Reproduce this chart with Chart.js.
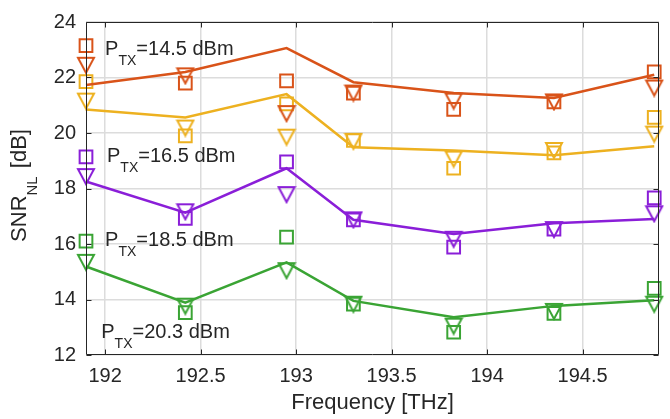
<!DOCTYPE html>
<html>
<head>
<meta charset="utf-8">
<script src="https://cdn.jsdelivr.net/npm/chart.js@4"></script>
<style>
  body { margin: 0; background: #fff; }
</style>
</head>
<body>
<canvas id="grafica" width="670" height="419"></canvas>
<script>
// Datos
const frecuencias = [191.9, 192.42, 192.95, 193.3, 193.825, 194.35, 194.875];

// P_TX = 14.5 dBm
const linea145 = [21.73, 22.2, 23.06, 21.83, 21.44, 21.26, 22.1];
const cuadros145 = [23.15, 21.8, 21.88, 21.44, 20.85, 21.12, 22.2];
const triangulos145 = [22.44, 22.06, 20.7, 21.44, 21.15, 21.12, 21.62];

// P_TX = 16.5 dBm
const linea165 = [20.85, 20.56, 21.4, 19.49, 19.37, 19.2, 19.52];
const cuadros165 = [21.85, 19.9, 21.05, 19.73, 18.73, 19.28, 20.56];
const triangulos165 = [21.15, 20.18, 19.85, 19.7, 19.06, 19.37, 19.96];

// P_TX = 18.5 dBm
const linea185 = [18.25, 17.13, 18.73, 16.87, 16.36, 16.75, 16.9];
const cuadros185 = [19.14, 16.92, 18.96, 16.87, 15.89, 16.54, 17.66];
const triangulos185 = [18.43, 17.16, 17.78, 16.87, 16.17, 16.52, 17.09];

// P_TX = 20.3 dBm
const linea203 = [15.19, 13.89, 15.34, 13.95, 13.36, 13.77, 13.97];
const cuadros203 = [16.1, 13.53, 16.25, 13.83, 12.82, 13.5, 14.4];
const triangulos203 = [15.34, 13.76, 15.04, 13.83, 13.04, 13.57, 13.83];

const ticksX = [192, 192.5, 193, 193.5, 194, 194.5];
const ticksY = [12, 14, 16, 18, 20, 22, 24];

// Textos de potencia (posición en unidades de datos)
const potencias = ["=14.5 dBm", "=16.5 dBm", "=18.5 dBm", "=20.3 dBm"];
const potenciaX = [192.0, 192.01, 192.0, 191.98];
const potenciaY = [22.8, 18.96, 15.91, 12.61];

const colores = ["#D95319", "#EDB120", "#8A1ED8", "#3AA434"];
const lineas = [linea145, linea165, linea185, linea203];
const cuadros = [cuadros145, cuadros165, cuadros185, cuadros203];
const triangulos = [triangulos145, triangulos165, triangulos185, triangulos203];

const fuente = "'Liberation Sans', Arial, Helvetica, sans-serif";
const colorEjes = "#262626";

function puntos(valores) {
    return valores.map((y, i) => ({ x: frecuencias[i], y }));
}

// Marcador de triángulo hacia abajo (centrado en su caja, como MATLAB)
function trianguloAbajo(color) {
    const c = document.createElement("canvas");
    c.width = 20;
    c.height = 19;
    const ctx = c.getContext("2d");
    ctx.strokeStyle = color;
    ctx.lineWidth = 2;
    ctx.beginPath();
    ctx.moveTo(2, 2);
    ctx.lineTo(18, 2);
    ctx.lineTo(10, 17);
    ctx.closePath();
    ctx.stroke();
    return c;
}

const datasets = [];
colores.forEach((color, k) => {
    datasets.push({
        data: puntos(lineas[k]),
        showLine: true,
        borderColor: color,
        borderWidth: 2.5,
        pointRadius: 0,
        clip: false
    });
    datasets.push({
        data: puntos(cuadros[k]),
        showLine: false,
        pointStyle: "rect",
        pointRadius: 9,
        pointBorderWidth: 2,
        pointBorderColor: color,
        pointBackgroundColor: "rgba(0,0,0,0)",
        clip: false
    });
    datasets.push({
        data: puntos(triangulos[k]),
        showLine: false,
        pointStyle: trianguloAbajo(color),
        clip: false
    });
});

// Caja, marcas hacia dentro y textos
const marcoPlugin = {
    id: "marco",
    afterDraw(chart) {
        const { ctx, chartArea: a, scales } = chart;
        const izq = Math.round(a.left) + 0.5;
        const der = Math.round(a.right) - 0.5;
        const arr = Math.round(a.top) + 0.5;
        const aba = Math.round(a.bottom) - 0.5;
        ctx.save();
        ctx.strokeStyle = colorEjes;
        ctx.lineWidth = 1;
        ctx.beginPath();
        ctx.rect(izq, arr, der - izq, aba - arr);
        ticksX.forEach(v => {
            const px = Math.round(scales.x.getPixelForValue(v)) + 0.5;
            ctx.moveTo(px, aba); ctx.lineTo(px, aba - 5);
            ctx.moveTo(px, arr); ctx.lineTo(px, arr + 5);
        });
        ticksY.forEach(v => {
            const py = Math.round(scales.y.getPixelForValue(v)) + 0.5;
            ctx.moveTo(izq, py); ctx.lineTo(izq + 5, py);
            ctx.moveTo(der, py); ctx.lineTo(der - 5, py);
        });
        ctx.stroke();

        // Etiquetas P_TX
        ctx.fillStyle = colorEjes;
        ctx.textBaseline = "alphabetic";
        ctx.textAlign = "left";
        potencias.forEach((txt, i) => {
            let x = scales.x.getPixelForValue(potenciaX[i]);
            const y = scales.y.getPixelForValue(potenciaY[i]);
            ctx.font = "20px " + fuente;
            ctx.fillText("P", x, y);
            x += ctx.measureText("P").width;
            ctx.font = "14px " + fuente;
            ctx.fillText("TX", x, y + 10);
            x += ctx.measureText("TX").width;
            ctx.font = "20px " + fuente;
            ctx.fillText(txt, x, y);
        });

        // Título eje X
        ctx.font = "22px " + fuente;
        ctx.textAlign = "center";
        ctx.fillText("Frequency [THz]", (a.left + a.right) / 2, 409);

        // Título eje Y con subíndice
        ctx.translate(26, (a.top + a.bottom) / 2 - 2);
        ctx.rotate(-Math.PI / 2);
        ctx.textAlign = "left";
        ctx.font = "22px " + fuente;
        const w1 = ctx.measureText("SNR").width;
        const w3 = ctx.measureText(" [dB]").width;
        ctx.font = "15px " + fuente;
        const w2 = ctx.measureText("NL").width;
        let x0 = -(w1 + w2 + w3) / 2;
        ctx.font = "22px " + fuente;
        ctx.fillText("SNR", x0, 0);
        ctx.font = "15px " + fuente;
        ctx.fillText("NL", x0 + w1, 11);
        ctx.font = "22px " + fuente;
        ctx.fillText(" [dB]", x0 + w1 + w2 + 2, 0);
        ctx.restore();
    }
};

new Chart(document.getElementById("grafica"), {
    type: "scatter",
    data: { datasets },
    options: {
        responsive: false,
        animation: false,
        devicePixelRatio: 1,
        layout: { padding: { left: 0, top: 16, right: 4, bottom: 0 } },
        plugins: {
            legend: { display: false },
            tooltip: { enabled: false }
        },
        scales: {
            x: {
                type: "linear",
                min: 191.9,
                max: 194.9,
                afterBuildTicks: s => { s.ticks = ticksX.map(v => ({ value: v })); },
                afterFit: s => { s.height = 64; },
                grid: { color: "#dcdcdc", lineWidth: 1.5, drawTicks: false },
                border: { display: false },
                ticks: {
                    padding: 9,
                    color: colorEjes,
                    font: { family: fuente, size: 20 },
                    maxRotation: 0,
                    callback: v => String(v)
                }
            },
            y: {
                type: "linear",
                min: 12,
                max: 24,
                afterBuildTicks: s => { s.ticks = ticksY.map(v => ({ value: v })); },
                afterFit: s => { s.width = 86; },
                grid: { color: "#dcdcdc", lineWidth: 1.5, drawTicks: false },
                border: { display: false },
                ticks: {
                    padding: 10,
                    color: colorEjes,
                    font: { family: fuente, size: 20 },
                    callback: v => String(v)
                }
            }
        }
    },
    plugins: [marcoPlugin]
});
</script>
</body>
</html>
